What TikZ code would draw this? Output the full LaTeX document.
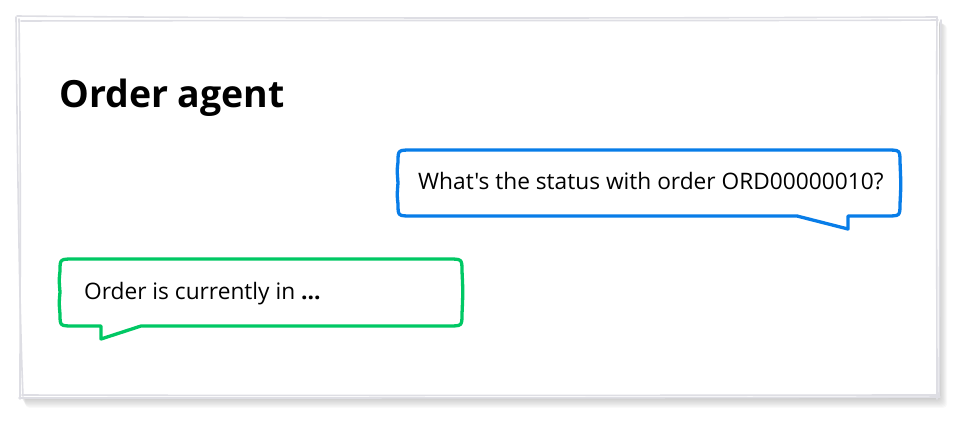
\documentclass[tikz,border=0pt]{standalone}
\usepackage{fontspec}
\setmainfont{Open Sans}
\newfontfamily\msgfont{Open Sans}
\definecolor{askblue}{RGB}{8,125,232}
\definecolor{replygreen}{RGB}{0,200,100}
\definecolor{framegray}{RGB}{222,222,228}
\begin{document}
\begin{tikzpicture}[x=1pt,y=-1pt,
  bubbleline/.style={line width=3.3pt, line join=round, fill=white},
  msgtext/.style={anchor=base west, inner sep=0pt, font=\msgfont\fontsize{22.7}{26}\selectfont, text=black},
  sketchline/.style={draw=framegray, line width=1.6pt, line cap=round}]
\useasboundingbox (0,0) rectangle (966,426);
% shadow
\foreach \d in {1,...,9}
  \fill[black, opacity=0.022, rounded corners=4] (20+\d*0.6,19+\d*0.6) rectangle (939+\d*0.9,398+\d*1.1);
% frame
\fill[white] (20,19) rectangle (939,398);
\draw[sketchline] (17,16) .. controls (300,19) and (700,18) .. (937,17);
\draw[sketchline] (21,21) .. controls (400,20) and (800,21) .. (938,20);
\draw[sketchline] (937,17) .. controls (936,150) and (937,300) .. (937,399);
\draw[sketchline] (941,20) .. controls (939,120) and (940,300) .. (939,396);
\draw[sketchline] (19,398) .. controls (300,398) and (700,398) .. (940,397);
\draw[sketchline] (22,395) .. controls (400,396) and (800,395) .. (936,395);
\draw[sketchline] (19,19) .. controls (21,150) and (20,300) .. (20,399);
\draw[sketchline] (16,17) .. controls (17,120) and (19,300) .. (23,396);
% title
\node[anchor=base west, inner sep=0pt, font=\fontsize{37.5}{44}\selectfont\bfseries] (title) at (59,107) {Order agent};
% question bubble
\draw[bubbleline, draw=askblue] (398,183) .. controls (397,170) .. (398,162) .. controls (398,150) .. (412,150) -- (886,150) .. controls (900,150) .. (900,162) .. controls (901,185) .. (900,204) .. controls (900,216) .. (886,216) -- (848,216) -- (848,229) -- (797,216) -- (412,216) .. controls (398,216) .. (398,204) .. controls (397,195) .. (398,183) -- cycle;
\node[msgtext] (question) at (418,189) {What's the status with order ORD00000010?};
% answer bubble
\draw[bubbleline, draw=replygreen] (60,292) .. controls (59,280) .. (60,271) .. controls (60,259) .. (74,259) -- (448,259) .. controls (462,259) .. (462,271) .. controls (463,292) .. (462,314) .. controls (462,326) .. (448,326) -- (141,326) -- (101,339) -- (101,326) -- (74,326) .. controls (60,326) .. (60,314) .. controls (59,303) .. (60,292) -- cycle;
\node[msgtext] (answer) at (84,299) {Order is currently in \textbf{...}};
\end{tikzpicture}
\end{document}
